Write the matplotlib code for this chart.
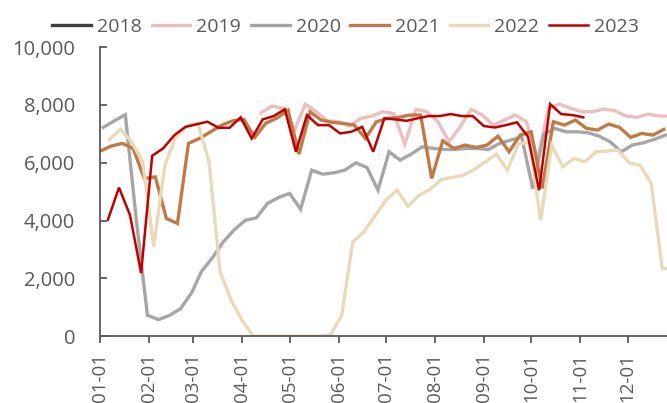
import pandas as pd
import matplotlib
matplotlib.use("Agg")
import matplotlib.pyplot as plt
import matplotlib.dates as mdates
from matplotlib.ticker import FuncFormatter, MultipleLocator

plt.rcParams['font.family'] = ['Open Sans', 'DejaVu Sans']

# weekly series, one list per year (first date of each list given separately)
years = ['2018', '2019', '2020', '2021', '2022', '2023']
colors = ['#404040', '#ebbfbf', '#a6a6a6', '#c07a48', '#ead9b8', '#c00000']
widths = [2.4, 2.4, 2.4, 2.4, 2.4, 1.8]

start_dates = {
    '2018': '2018-01-05',
    '2019': '2019-04-13',
    '2020': '2020-01-03',
    '2021': '2021-01-01',
    '2022': '2022-01-07',
    '2023': '2023-01-06',
}

v2018 = []
v2019 = [7730, 7961, 7882, 7100, 8030, 7764, 7452, 7417, 7268, 7535,
         7615, 7764, 7700, 6644, 7847, 7764, 7417, 6724, 7244, 7847,
         7650, 7303, 7476, 7650, 7420, 6100, 7900, 8030, 7882, 7764,
         7764, 7858, 7800, 7620, 7570, 7684, 7615, 7615]
v2020 = [7223, 7450, 7660, 4000, 720, 570, 717, 950, 1500, 2218,
         2700, 3258, 3680, 4010, 4090, 4589, 4797, 4936, 4391, 5743,
         5604, 5650, 5743, 5996, 5837, 5050, 6378, 6090, 6298, 6551,
         6495, 6460, 6460, 6495, 6495, 6460, 6668, 6783, 6897, 5100,
         7000, 7188, 7071, 7071, 7036, 6922, 6724, 6378, 6610, 6689,
         6807, 6956]
v2021 = [6400, 6575, 6670, 6495, 5456, 5510, 4070, 3900, 6670, 6840,
         7070, 7300, 7450, 7500, 6880, 7370, 7545, 7820, 6300, 7764,
         7476, 7396, 7361, 7303, 6842, 7417, 7535, 7570, 7650, 7650,
         5456, 6760, 6495, 6610, 6530, 6610, 6920, 6380, 6956, 7070,
         5110, 7417, 7303, 7476, 7188, 7130, 7338, 7223, 6876, 7015,
         6956, 7154]
v2022 = [6807, 7154, 6724, 6031, 3085, 5916, 6897, 7250, 7362, 6031,
         2218, 1237, 544, 0, 0, 0, 0, 0, 0, 0,
         50, 717, 3258, 3605, 4150, 4700, 5050, 4495, 4877, 5074,
         5421, 5490, 5570, 5767, 6031, 6298, 5743, 6668, 6689, 4010,
         6610, 5858, 6149, 6031, 6378, 6402, 6436, 5996, 5916, 5282,
         2336, 2336]
v2023 = [4030, 5140, 4180, 2180, 6240, 6500, 6950, 7240, 7330, 7420,
         7210, 7210, 7570, 6840, 7500, 7615, 7850, 6380, 7650, 7300,
         7300, 7015, 7070, 7240, 6380, 7535, 7500, 7450, 7535, 7615,
         7615, 7684, 7615, 7615, 7270, 7220, 7300, 7400, 6900, 5050,
         8030, 7684, 7650, 7570]

values = {'2018': v2018, '2019': v2019, '2020': v2020,
          '2021': v2021, '2022': v2022, '2023': v2023}


def to_common_year(start, n):
    # put every year on the same month-day axis
    d = pd.date_range(start, periods=n, freq='7D')
    return [pd.Timestamp(2001, x.month, x.day) for x in d]


fig = plt.figure(figsize=(6.67, 4.03), dpi=100)
ax = fig.add_axes([0.15, 0.166, 0.85, 0.717])

for y, c, w in zip(years, colors, widths):
    vals = values[y]
    ax.plot(to_common_year(start_dates[y], len(vals)), vals,
            color=c, lw=w, label=y, solid_joinstyle='miter')

ax.set_xlim(pd.Timestamp(2001, 1, 1), pd.Timestamp(2001, 12, 26))
ax.set_ylim(0, 10000)
ax.yaxis.set_major_locator(MultipleLocator(2000))
ax.yaxis.set_major_formatter(FuncFormatter(lambda v, p: f'{int(v):,}'))
ax.xaxis.set_major_locator(mdates.MonthLocator())
ax.xaxis.set_major_formatter(mdates.DateFormatter('%m-%d'))

tc = '#595959'
for s in ['top', 'right']:
    ax.spines[s].set_visible(False)
for s in ['left', 'bottom']:
    ax.spines[s].set_color(tc)
    ax.spines[s].set_linewidth(1.3)
ax.tick_params(axis='y', direction='in', length=5, width=1.3, color=tc,
               labelcolor=tc, labelsize=14.5, pad=18)
ax.tick_params(axis='x', direction='out', length=5, width=1.3, color=tc,
               labelcolor=tc, labelsize=13.5, rotation=90, pad=7)

fig.legend(loc='upper center', bbox_to_anchor=(0.518, 1.0), ncol=6,
           frameon=False, fontsize=14, handlelength=2.0, handletextpad=0.3,
           columnspacing=0.5, labelcolor=tc)

fig.savefig('out.png', dpi=100)
